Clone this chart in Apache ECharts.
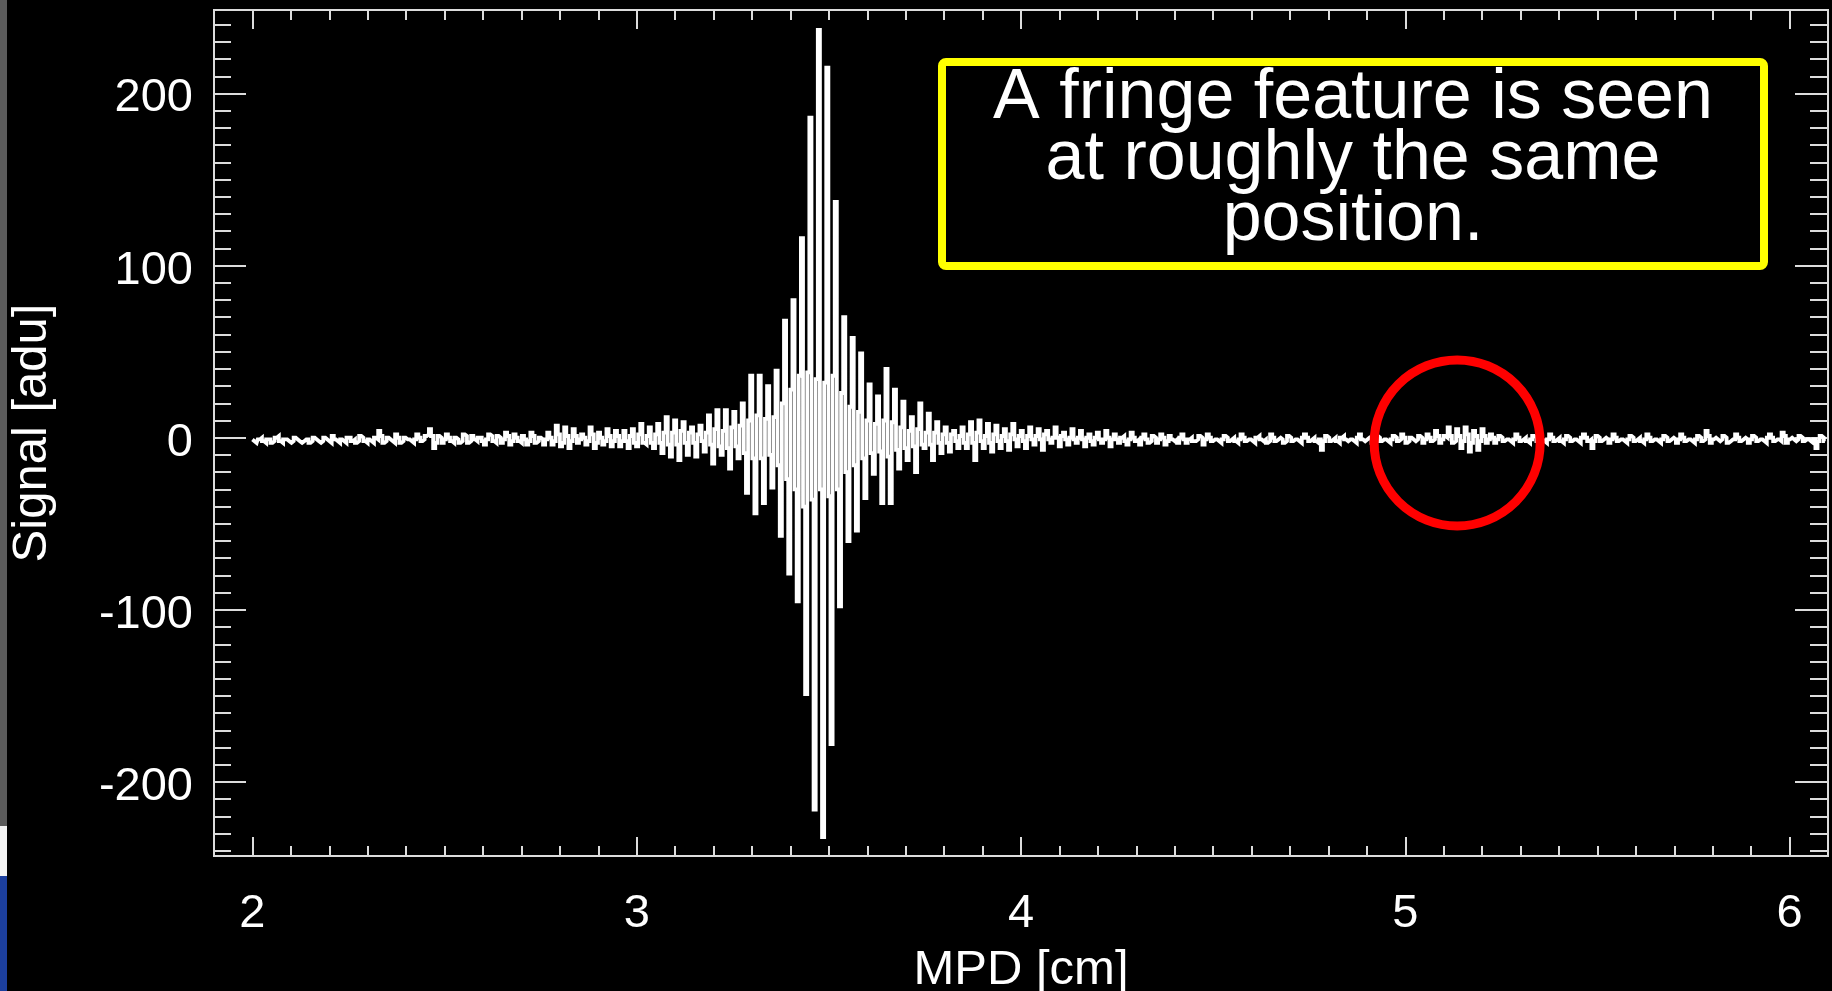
<!DOCTYPE html>
<html><head><meta charset="utf-8">
<script src="https://cdn.jsdelivr.net/npm/echarts@6/dist/echarts.min.js"></script>
<style>html,body{margin:0;padding:0;background:#000;overflow:hidden;} #chart{width:1832px;height:991px;}</style>
</head><body><div id="chart"></div>
<script>
// ---- data ----
const mpdStart = 2.0;       // cm, first sample
const mpdStep = 0.0055;     // cm, sampling step
// quiet part before the burst (2.000 - 2.963 cm)
const signalLead = [
  -1, -2, -3, -1, 0, -2, -3, -1, -1, -3, -2, 0, 1, -2, -3, -1,
  -1, -2, -3, -2, 0, -1, -2, -3, -2, -1, -1, -3, -2, 0, -1, -2,
  -3, -2, 0, -1, -2, -3, 1, -1, -2, -3, -1, -2, -3, 0, 0, -2,
  -1, -3, -2, 1, 0, -2, -3, -1, -2, -3, 0, -1, 4, 1, -3, -2,
  0, -1, -2, -3, 2, 0, -3, -2, 0, -1, -1, -2, -3, -1, 2, 0,
  -2, -1, 1, 2, 5, 1, -6, -3, 1, 0, -3, -1, 2, 0, -2, -3,
  0, -1, -3, -2, 2, 1, -3, -2, 1, -1, -2, 0, 0, -2, -4, -1,
  2, 1, -2, -3, 1, 0, -3, -1, 3, 1, -4, -2, 2, 0, -2, -3,
  1, -1, -4, -2, 3, 1, -3, -2, 0, -1, -4, -1, 3, 0, -4, -2,
  7, 2, -5, -3, 6, 1, -6, -2, 5, 1, -3, -1, 2, 0, -4, -2,
  6, 2, -6, -3, 3, 0, -4, -2, 5, 1, -5, -2, 4, 1, -5, -2
];
// fringe burst (2.968 - 3.919 cm)
const signalBurst = [
  4, -2, -6, 1, 5, -3, -5, 2, 8, -3, -4, 1, 6, -3, -6, 2,
  8, -3, -9, 3, 12, -4, -11, 3, 10, -4, -13, 4, 9, -3, -10, 3,
  6, -3, -11, 2, 7, -2, -8, 3, 13, -4, -15, 5, 16, -5, -10, 4,
  16, -6, -18, 6, 15, -5, -12, 7, 20, -9, -32, 10, 36, -12, -44, 13,
  36, -12, -38, 11, 30, -10, -29, 12, 39, -16, -57, 20, 68, -24, -79, 28,
  80, -30, -95, 36, 116, -40, -149, 38, 186, -36, -216, 34, 237, -30, -232, 32,
  215, -34, -178, 36, 137, -30, -98, 26, 70, -20, -60, 18, 58, -16, -54, 15,
  49, -12, -35, 10, 31, -9, -21, 8, 24, -8, -38, 10, 40, -11, -38, 9,
  28, -7, -18, 6, 21, -6, -13, 4, 12, -5, -20, 5, 20, -4, -6, 3,
  14, -4, -13, 3, 9, -3, -9, 2, 6, -3, -8, 2, 4, -2, -6, 1,
  6, -3, -6, 2, 9, -3, -13, 3, 10, -2, -6, 1, 8, -3
];
// quiet part after the burst, with the weak feature near 5.1 cm (3.925 - 6.092 cm)
const signalTail = [
  -8, 2, 7, -2, -6, 1, 5, -2, -7, 2, 8, -1, -5, 1, 4, -2, -6, 1, 6, -1,
  -4, 1, 5, -1, -7, 2, 4, -1, -3, 0, 6, 0, -5, 1, 3, -1, -4, 0, 5, -1,
  -3, 0, 4, -1, -5, 0, 2, -2, -4, 0, 3, -1, -3, -1, 4, 0, -5, -1, 2, -1,
  -3, 0, 1, -2, -4, -1, 3, 0, -2, -1, -4, 0, 2, -1, -3, -2, 1, 0, -3, -1,
  2, 0, -4, -2, 1, -1, -2, -1, -3, 0, 2, -1, -3, -1, 0, -2, -2, -1, 1, 0,
  -4, -1, 2, 0, -2, -1, -1, -2, -3, -1, 1, 0, -2, -1, 0, -2, -3, -1, 2, 0,
  -2, -1, -1, -2, -3, 0, 1, -1, -2, -1, -3, -2, 2, 0, -2, -1, 0, -1, -3, -2,
  1, 0, -2, -1, -1, -2, -3, 0, 2, 0, -2, -1, 0, -2, -3, -1, -7, -2, 1, 0,
  -2, -1, 0, -2, -3, 0, 1, -1, -2, -1, -1, -2, -3, 0, 2, -1, -2, -1, 0, -1,
  -3, -1, 1, 0, -2, -1, -1, -2, -3, -1, 1, 0, -2, -1, 2, 0, -3, -2, 0, -1,
  -2, -1, 1, 0, -3, -1, 2, 0, -2, -1, 4, 1, -3, -1, 1, 0, 6, 1, -3, -2,
  5, 1, -6, -2, 6, 2, -8, -3, 4, 1, -7, -2, 5, 1, -3, -1, 2, 0, -3, -1,
  1, 0, -2, -1, -1, -2, -3, -1, 2, 0, -2, -1, 0, -2, -3, -1, 1, 0, -2, -1,
  -1, -2, -3, -1, 2, 0, -2, -1, 0, -2, -3, -1, 1, 0, -2, -1, -1, -2, -3, 0,
  2, 0, -2, -1, -6, -2, 1, 0, -2, -1, 0, -1, -3, -1, 2, 0, -2, -1, -1, -2,
  -3, -1, 1, 0, -2, -1, 0, -2, -3, -1, 2, 0, -2, -1, -1, -2, -3, -1, 1, 0,
  -2, -1, 0, -1, -3, -1, 2, 0, -2, -1, -1, -2, -3, -1, 1, 0, -2, -1, 4, 1,
  -3, -1, 0, -1, -2, -1, 1, 0, -3, -2, -1, -1, 2, 0, -2, -1, 0, -1, -3, -1,
  1, 0, -2, -1, -1, -2, -3, 0, 2, 0, -2, -1, -1, -2, 3, 1, -3, -1, 0, -1,
  -2, -1, 1, 0, -2, -1, -1, -2, -3, -1, -6, -2, 1, 0, -2
];
const xRange = [1.9, 6.1];
const yRange = [-243, 248.5];
const xMajorTicks = [2, 3, 4, 5, 6];
const yMajorTicks = [-200, -100, 0, 100, 200];
const xMinorStep = 0.1;
const yMinorStep = 10;
const xTitle = 'MPD [cm]';
const yTitle = 'Signal [adu]';
const noteLines = ['A fringe feature is seen', 'at roughly the same', 'position.'];
const circleAt = [5.135, -3];

// ---- derived ----
const signal = signalLead.concat(signalBurst, signalTail);
const xMinorTicks = [];
for (let k = Math.ceil(xRange[0] / xMinorStep); k * xMinorStep <= xRange[1] + 1e-9; k++) xMinorTicks.push(+(k * xMinorStep).toFixed(2));
const yMinorTicks = [];
for (let v = Math.ceil(yRange[0] / yMinorStep) * yMinorStep; v <= yRange[1]; v += yMinorStep) yMinorTicks.push(v);
const points = signal.map((v, i) => [+(mpdStart + i * mpdStep).toFixed(5), v]);

const FRAME = '#dcdcdc';
const FONT = '"Liberation Sans", Arial, Helvetica, sans-serif';

function xAx(pos, ticks, len, withLabels) {
  const a = {
    type: 'value', position: pos, min: xRange[0], max: xRange[1],
    axisLine: { show: true, onZero: false, lineStyle: { color: FRAME, width: 2 } },
    axisTick: { show: true, inside: true, length: len, customValues: ticks, lineStyle: { color: FRAME, width: 2 } },
    axisLabel: { show: false },
    splitLine: { show: false }
  };
  if (withLabels) {
    a.axisLabel = { show: true, customValues: xMajorTicks, color: '#fff', fontSize: 47, fontFamily: FONT, margin: 35 };
    a.name = xTitle; a.nameLocation = 'middle'; a.nameGap = 90;
    a.nameTextStyle = { color: '#fff', fontSize: 49, fontFamily: FONT };
  }
  return a;
}
function yAx(pos, ticks, len, withLabels) {
  const a = {
    type: 'value', position: pos, min: yRange[0], max: yRange[1],
    axisLine: { show: true, onZero: false, lineStyle: { color: FRAME, width: 2 } },
    axisTick: { show: true, inside: true, length: len, customValues: ticks, lineStyle: { color: FRAME, width: 2 } },
    axisLabel: { show: false },
    splitLine: { show: false }
  };
  if (withLabels) {
    a.axisLabel = { show: true, customValues: yMajorTicks, color: '#fff', fontSize: 47, fontFamily: FONT, margin: 21,
                    verticalAlign: 'top', lineHeight: 10 };
    a.name = yTitle; a.nameLocation = 'middle'; a.nameGap = 157; a.nameRotate = 90;
    a.nameTextStyle = { color: '#fff', fontSize: 49, fontFamily: FONT };
  }
  return a;
}

const chart = echarts.init(document.getElementById('chart'), null, { renderer: 'canvas' });
chart.setOption({
  backgroundColor: '#000',
  animation: false,
  grid: { left: 214, right: 4, top: 10, bottom: 135, containLabel: false, outerBoundsMode: 'none' },
  xAxis: [
    xAx('bottom', xMajorTicks, 19, true),
    xAx('bottom', xMinorTicks, 10, false),
    xAx('top', xMajorTicks, 19, false),
    xAx('top', xMinorTicks, 10, false)
  ],
  yAxis: [
    yAx('left', yMajorTicks, 32, true),
    yAx('left', yMinorTicks, 17, false),
    yAx('right', yMajorTicks, 33, false),
    yAx('right', yMinorTicks, 18, false)
  ],
  series: [{
    type: 'line', xAxisIndex: 0, yAxisIndex: 0, step: 'middle',
    data: points, showSymbol: false, symbol: 'none', sampling: null,
    lineStyle: { color: '#ffffff', width: 3.8, join: 'miter', cap: 'butt' }, z: 5
  }]
});

const c = chart.convertToPixel({ xAxisIndex: 0, yAxisIndex: 0 }, circleAt);
chart.setOption({
  graphic: [
    { type: 'rect', id: 'stripGray', z: 1, shape: { x: 0, y: 0, width: 7, height: 826 }, style: { fill: '#5b5b5b' } },
    { type: 'rect', id: 'stripWhite', z: 1, shape: { x: 0, y: 826, width: 7, height: 50 }, style: { fill: '#f4f4f4' } },
    { type: 'rect', id: 'stripBlue', z: 1, shape: { x: 0, y: 876, width: 7, height: 115 }, style: { fill: '#1c3f9e' } },
    { type: 'rect', id: 'noteBox', z: 100, shape: { x: 942, y: 62, width: 822, height: 204, r: 4 },
      style: { fill: '#000', stroke: '#ffff00', lineWidth: 8 } },
    { type: 'text', id: 'noteText', z: 101, x: 1353, y: 160,
      style: { text: noteLines.join('\n'), fill: '#fff', fontSize: 70, fontFamily: FONT,
               align: 'center', verticalAlign: 'middle', lineHeight: 61 } },
    { type: 'circle', id: 'ring', z: 100, shape: { cx: c[0], cy: c[1], r: 83 },
      style: { fill: 'none', stroke: '#ff0000', lineWidth: 9 } }
  ]
});
</script>
</body></html>
